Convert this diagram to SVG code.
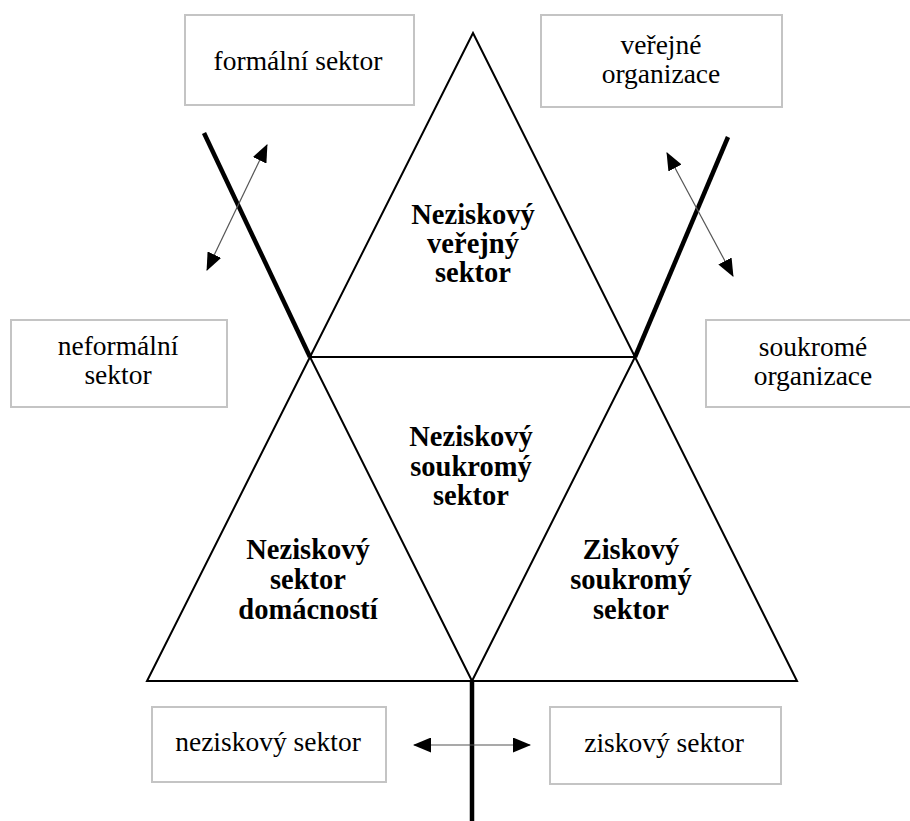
<svg xmlns="http://www.w3.org/2000/svg" width="910" height="821" viewBox="0 0 910 821">
<style>
.box{fill:#fff;stroke:#c4c4c4;stroke-width:2}
text{font-family:"Liberation Serif","Times New Roman",serif;fill:#000;text-anchor:middle}
.lbl{font-size:27.5px}
.bold{font-size:28.5px;font-weight:bold}
.thin{stroke:#000;stroke-width:2;fill:none;stroke-linejoin:miter}
.thick{stroke:#000;stroke-width:4.5;fill:none}
.arr{stroke:#555;stroke-width:1.2;fill:none;marker-start:url(#ah);marker-end:url(#ah)}
</style>
<defs>
<marker id="ah" markerUnits="userSpaceOnUse" viewBox="0 0 18 15" markerWidth="18" markerHeight="15" refX="17" refY="7.5" orient="auto-start-reverse">
<path d="M0,0 L18,7.5 L0,15 z" fill="#000"/>
</marker>
</defs>
<rect width="910" height="821" fill="#fff"/>
<g id="triangles">
<path class="thin" d="M473,33 L797,681 L147,681 Z"/>
<path class="thin" d="M310,357 L635,357 L472,681 Z"/>
</g>
<g id="connectors">
<line class="thick" x1="204" y1="133" x2="310" y2="357"/>
<line class="thick" x1="728" y1="137" x2="635" y2="357"/>
<line class="thick" x1="472" y1="681" x2="472" y2="821"/>
<line class="arr" x1="207" y1="270" x2="267" y2="145"/>
<line class="arr" x1="733" y1="276" x2="667" y2="153"/>
<line class="arr" x1="414" y1="745" x2="530" y2="745"/>
</g>
<g id="node-formalni">
<rect class="box" x="185" y="15" width="229" height="90"/>
<text class="lbl" x="298" y="70">formální sektor</text>
</g>
<g id="node-verejne">
<rect class="box" x="541" y="15" width="241" height="92"/>
<text class="lbl" x="661" y="54">veřejné</text>
<text class="lbl" x="661" y="83">organizace</text>
</g>
<g id="node-neformalni">
<rect class="box" x="11" y="320" width="216" height="87"/>
<text class="lbl" x="118" y="355">neformální</text>
<text class="lbl" x="118" y="384">sektor</text>
</g>
<g id="node-soukrome">
<rect class="box" x="706" y="320" width="216" height="87"/>
<text class="lbl" x="813" y="356">soukromé</text>
<text class="lbl" x="813" y="385">organizace</text>
</g>
<g id="node-neziskovy">
<rect class="box" x="152" y="707" width="234" height="75"/>
<text class="lbl" x="268" y="751">neziskový sektor</text>
</g>
<g id="node-ziskovy">
<rect class="box" x="550" y="707" width="231" height="77"/>
<text class="lbl" x="664" y="752">ziskový sektor</text>
</g>
<g id="node-verejny-sektor">
<text class="bold" x="473" y="224">Neziskový</text>
<text class="bold" x="473" y="253">veřejný</text>
<text class="bold" x="473" y="282">sektor</text>
</g>
<g id="node-soukromy-neziskovy">
<text class="bold" x="471" y="446">Neziskový</text>
<text class="bold" x="471" y="476">soukromý</text>
<text class="bold" x="471" y="505">sektor</text>
</g>
<g id="node-domacnosti">
<text class="bold" x="308" y="559">Neziskový</text>
<text class="bold" x="308" y="589">sektor</text>
<text class="bold" x="308" y="619">domácností</text>
</g>
<g id="node-ziskovy-soukromy">
<text class="bold" x="631" y="559">Ziskový</text>
<text class="bold" x="631" y="589">soukromý</text>
<text class="bold" x="631" y="619">sektor</text>
</g>
</svg>
